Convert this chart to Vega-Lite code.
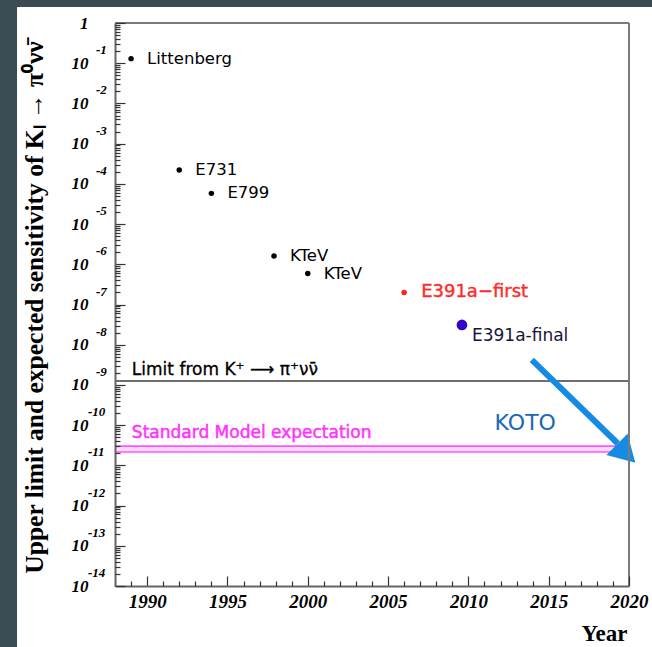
{
  "$schema": "https://vega.github.io/schema/vega-lite/v6.json",
  "width": 514,
  "height": 563,
  "autosize": "none",
  "padding": {"left": 115, "top": 23, "right": 23, "bottom": 61},
  "background": "#3b4b53",
  "config": {"view": {"stroke": null}},
  "datasets": {
    "points": [
      {"experiment": "Littenberg", "year": 1989.0, "limit": 0.13, "kind": "limit"},
      {"experiment": "E731", "year": 1992.0, "limit": 2.2e-4, "kind": "limit"},
      {"experiment": "E799", "year": 1994.0, "limit": 5.8e-5, "kind": "limit"},
      {"experiment": "KTeV", "year": 1997.9, "limit": 1.6e-6, "kind": "limit"},
      {"experiment": "KTeV", "year": 2000.0, "limit": 5.9e-7, "kind": "limit"},
      {"experiment": "E391a\u2212first", "year": 2006.0, "limit": 2.0e-7, "kind": "first"},
      {"experiment": "E391a-final", "year": 2009.6, "limit": 3.1e-8, "kind": "final"}
    ],
    "decades": [
      {"v": 1e-1, "e": "-1"}, {"v": 1e-2, "e": "-2"}, {"v": 1e-3, "e": "-3"},
      {"v": 1e-4, "e": "-4"}, {"v": 1e-5, "e": "-5"}, {"v": 1e-6, "e": "-6"},
      {"v": 1e-7, "e": "-7"}, {"v": 1e-8, "e": "-8"}, {"v": 1e-9, "e": "-9"},
      {"v": 1e-10, "e": "-10"}, {"v": 1e-11, "e": "-11"}, {"v": 1e-12, "e": "-12"},
      {"v": 1e-13, "e": "-13"}, {"v": 1e-14, "e": "-14"}
    ],
    "sm": [{"lo": 2.15e-11, "hi": 3.0e-11}],
    "kplus": [{"limit": 1.25e-9}],
    "one": [{}]
  },
  "layer": [
    {
      "data": {"name": "one"},
      "mark": {"type": "rect", "fill": "white", "clip": false},
      "encoding": {
        "x": {"datum": 1981.9, "type": "quantitative", "axis": null},
        "x2": {"datum": 2040},
        "y": {"datum": 2.5, "type": "quantitative", "axis": null},
        "y2": {"datum": 1e-17}
      }
    },
    {
      "data": {"name": "sm"},
      "mark": {"type": "rect", "fill": "#ffdcff"},
      "encoding": {
        "x": {"datum": 1988, "type": "quantitative", "axis": null},
        "x2": {"datum": 2020},
        "y": {"field": "lo", "type": "quantitative", "axis": null},
        "y2": {"field": "hi"}
      }
    },
    {
      "data": {"name": "sm"},
      "mark": {"type": "rule", "stroke": "#ff55ff", "strokeWidth": 1.6},
      "encoding": {
        "x": {"datum": 1988, "type": "quantitative", "axis": null},
        "x2": {"datum": 2020},
        "y": {"field": "lo", "type": "quantitative", "axis": null}
      }
    },
    {
      "data": {"name": "sm"},
      "mark": {"type": "rule", "stroke": "#ff55ff", "strokeWidth": 1.6},
      "encoding": {
        "x": {"datum": 1988, "type": "quantitative", "axis": null},
        "x2": {"datum": 2020},
        "y": {"field": "hi", "type": "quantitative", "axis": null}
      }
    },
    {
      "data": {"name": "kplus"},
      "mark": {"type": "rule", "stroke": "#6e6e6e", "strokeWidth": 2},
      "encoding": {
        "x": {"datum": 1988, "type": "quantitative", "axis": null},
        "x2": {"datum": 2020},
        "y": {"field": "limit", "type": "quantitative", "axis": null}
      }
    },
    {
      "data": {"name": "points"},
      "mark": {"type": "point", "filled": true, "opacity": 1},
      "encoding": {
        "x": {
          "field": "year", "type": "quantitative",
          "scale": {"domain": [1988, 2020], "nice": false, "zero": false},
          "axis": {
            "orient": "bottom", "zindex": 1,
            "values": [1990, 1995, 2000, 2005, 2010, 2015, 2020],
            "format": "d", "labelFlush": false, "labelOverlap": false,
            "tickSize": -10, "tickColor": "#333", "tickWidth": 1.2,
            "labelPadding": 16, "labelBaseline": "top",
            "labelFont": "Liberation Serif", "labelFontStyle": "italic", "labelFontWeight": "bold",
            "labelFontSize": 19, "labelColor": "black",
            "domainColor": "#666", "domainWidth": 2, "grid": false,
            "title": "Year", "titleFont": "Liberation Serif", "titleFontWeight": "bold",
            "titleFontSize": 23, "titleColor": "black",
            "titleAlign": "right", "titleX": 512, "titleY": 54, "titleBaseline": "alphabetic"
          }
        },
        "y": {
          "field": "limit", "type": "quantitative",
          "scale": {"type": "log", "domain": [1e-14, 1], "nice": false},
          "axis": {
            "orient": "left", "zindex": 1,
            "values": [1, 1e-1, 1e-2, 1e-3, 1e-4, 1e-5, 1e-6, 1e-7, 1e-8, 1e-9, 1e-10, 1e-11, 1e-12, 1e-13, 1e-14],
            "labelExpr": "datum.value >= 0.5 ? '1' : (datum.value < 5e-10 ? '10\u00a0' : '10')",
            "labelOverlap": false, "labelFlush": false,
            "tickSize": -10, "tickColor": "#333", "tickWidth": 1.2,
            "labelPadding": 37, "labelBaseline": "middle", "labelAlign": "right",
            "labelFont": "Liberation Serif", "labelFontStyle": "italic", "labelFontWeight": "bold",
            "labelFontSize": 17, "labelColor": "black",
            "domainColor": "#666", "domainWidth": 2, "grid": false,
            "title": "Upper limit and expected sensitivity of K\u2097 \u2192 \u03c0\u2070\u03bd\u03bd\u0304",
            "titleFont": "Liberation Serif", "titleFontWeight": "bold", "titleFontSize": 25.5,
            "titleColor": "black", "titleAngle": -90, "titleAlign": "center",
            "titleBaseline": "alphabetic", "titleX": -73, "titleY": 284
          }
        },
        "color": {
          "field": "kind", "type": "nominal", "legend": null,
          "scale": {"domain": ["limit", "first", "final"], "range": ["black", "#ff2020", "#3300cc"]}
        },
        "size": {"condition": {"test": "datum.kind == 'final'", "value": 115}, "value": 30}
      }
    },
    {
      "data": {"name": "points"},
      "transform": [{"filter": "datum.kind == 'limit'"}],
      "mark": {"type": "text", "align": "left", "baseline": "middle", "dx": 16, "font": "DejaVu Sans", "fontSize": 16.5, "color": "black"},
      "encoding": {
        "x": {"field": "year", "type": "quantitative", "axis": null},
        "y": {"field": "limit", "type": "quantitative", "axis": null},
        "text": {"field": "experiment"}
      }
    },
    {
      "data": {"name": "points"},
      "transform": [{"filter": "datum.kind == 'first'"}],
      "mark": {"type": "text", "align": "left", "baseline": "middle", "dx": 17, "font": "DejaVu Sans", "fontSize": 18, "color": "#ff2a2a", "stroke": "#ff2a2a", "strokeWidth": 0.4},
      "encoding": {
        "x": {"field": "year", "type": "quantitative", "axis": null},
        "y": {"field": "limit", "type": "quantitative", "axis": null},
        "text": {"field": "experiment"}
      }
    },
    {
      "data": {"name": "points"},
      "transform": [{"filter": "datum.kind == 'final'"}],
      "mark": {"type": "text", "align": "left", "baseline": "middle", "dx": 10, "dy": 11, "font": "DejaVu Sans", "fontSize": 17, "color": "#15153a"},
      "encoding": {
        "x": {"field": "year", "type": "quantitative", "axis": null},
        "y": {"field": "limit", "type": "quantitative", "axis": null},
        "text": {"field": "experiment"}
      }
    },
    {
      "data": {"name": "decades"},
      "transform": [{"filter": "datum.v > 5e-10"}],
      "mark": {"type": "text", "align": "left", "baseline": "middle", "dx": -19, "dy": -13, "font": "Liberation Serif", "fontStyle": "italic", "fontWeight": "bold", "fontSize": 13, "color": "black", "clip": false},
      "encoding": {
        "x": {
          "datum": 1988, "type": "quantitative",
          "axis": {
            "orient": "bottom", "zindex": 1, "labels": false, "domain": false, "grid": false, "title": null,
            "values": [1988, 1989, 1991, 1992, 1993, 1994, 1996, 1997, 1998, 1999, 2001, 2002, 2003, 2004, 2006, 2007, 2008, 2009, 2011, 2012, 2013, 2014, 2016, 2017, 2018, 2019],
            "tickSize": -5, "tickColor": "#333", "tickWidth": 1.2
          }
        },
        "y": {
          "field": "v", "type": "quantitative",
          "axis": {
            "orient": "left", "zindex": 1, "labels": false, "domain": false, "grid": false, "title": null,
            "values": [2e-1, 3e-1, 4e-1, 5e-1, 6e-1, 7e-1, 8e-1, 9e-1,
                       2e-2, 3e-2, 4e-2, 5e-2, 6e-2, 7e-2, 8e-2, 9e-2,
                       2e-3, 3e-3, 4e-3, 5e-3, 6e-3, 7e-3, 8e-3, 9e-3,
                       2e-4, 3e-4, 4e-4, 5e-4, 6e-4, 7e-4, 8e-4, 9e-4,
                       2e-5, 3e-5, 4e-5, 5e-5, 6e-5, 7e-5, 8e-5, 9e-5,
                       2e-6, 3e-6, 4e-6, 5e-6, 6e-6, 7e-6, 8e-6, 9e-6,
                       2e-7, 3e-7, 4e-7, 5e-7, 6e-7, 7e-7, 8e-7, 9e-7,
                       2e-8, 3e-8, 4e-8, 5e-8, 6e-8, 7e-8, 8e-8, 9e-8,
                       2e-9, 3e-9, 4e-9, 5e-9, 6e-9, 7e-9, 8e-9, 9e-9,
                       2e-10, 3e-10, 4e-10, 5e-10, 6e-10, 7e-10, 8e-10, 9e-10,
                       2e-11, 3e-11, 4e-11, 5e-11, 6e-11, 7e-11, 8e-11, 9e-11,
                       2e-12, 3e-12, 4e-12, 5e-12, 6e-12, 7e-12, 8e-12, 9e-12,
                       2e-13, 3e-13, 4e-13, 5e-13, 6e-13, 7e-13, 8e-13, 9e-13,
                       2e-14, 3e-14, 4e-14, 5e-14, 6e-14, 7e-14, 8e-14, 9e-14],
            "tickSize": -5, "tickColor": "#333", "tickWidth": 1.2
          }
        },
        "text": {"field": "e"}
      }
    },
    {
      "data": {"name": "decades"},
      "transform": [{"filter": "datum.v < 5e-10"}],
      "mark": {"type": "text", "align": "left", "baseline": "middle", "dx": -27, "dy": -13, "font": "Liberation Serif", "fontStyle": "italic", "fontWeight": "bold", "fontSize": 13, "color": "black", "clip": false},
      "encoding": {
        "x": {"datum": 1988, "type": "quantitative", "axis": null},
        "y": {"field": "v", "type": "quantitative", "axis": null},
        "text": {"field": "e"}
      }
    },
    {
      "data": {"name": "one"},
      "mark": {"type": "text", "text": "Limit from K\u207a \u27f6 \u03c0\u207a\u03bd\u03bd\u0304", "align": "left", "baseline": "middle", "dy": -11, "font": "DejaVu Sans", "fontSize": 17, "color": "black", "stroke": "black", "strokeWidth": 0.3},
      "encoding": {
        "x": {"datum": 1989.05, "type": "quantitative", "axis": null},
        "y": {"datum": 1.25e-9, "type": "quantitative", "axis": null}
      }
    },
    {
      "data": {"name": "one"},
      "mark": {"type": "text", "text": "Standard Model expectation", "align": "left", "baseline": "middle", "font": "DejaVu Sans", "fontSize": 17, "color": "#ff33ff", "stroke": "#ff33ff", "strokeWidth": 0.5},
      "encoding": {
        "x": {"datum": 1989.05, "type": "quantitative", "axis": null},
        "y": {"datum": 6.5e-11, "type": "quantitative", "axis": null}
      }
    },
    {
      "data": {"name": "one"},
      "mark": {"type": "text", "text": "KOTO", "align": "center", "baseline": "middle", "font": "DejaVu Sans", "fontSize": 22, "color": "#1a68b8"},
      "encoding": {
        "x": {"datum": 2013.54, "type": "quantitative", "axis": null},
        "y": {"datum": 1.13e-10, "type": "quantitative", "axis": null}
      }
    },
    {
      "data": {"name": "one"},
      "mark": {"type": "rule", "stroke": "#168be3", "strokeWidth": 6, "clip": false},
      "encoding": {
        "x": {"datum": 2013.95, "type": "quantitative", "axis": null},
        "y": {"datum": 4.2e-9, "type": "quantitative", "axis": null},
        "x2": {"datum": 2019.3},
        "y2": {"datum": 3.5e-11}
      }
    },
    {
      "data": {"name": "one"},
      "mark": {"type": "point", "shape": "triangle-right", "angle": 45, "size": 900, "filled": true, "color": "#168be3", "opacity": 1, "clip": false},
      "encoding": {
        "x": {"datum": 2019.82, "type": "quantitative", "axis": null},
        "y": {"datum": 1.97e-11, "type": "quantitative", "axis": null}
      }
    },
    {
      "data": {"name": "one"},
      "mark": {"type": "rule", "stroke": "#7a7a7a", "strokeWidth": 2},
      "encoding": {
        "x": {"datum": 1988, "type": "quantitative", "axis": null},
        "x2": {"datum": 2020},
        "y": {"datum": 1, "type": "quantitative", "axis": null}
      }
    },
    {
      "data": {"name": "one"},
      "mark": {"type": "rule", "stroke": "#7a7a7a", "strokeWidth": 2},
      "encoding": {
        "x": {"datum": 2020, "type": "quantitative", "axis": null},
        "y": {"datum": 1e-14, "type": "quantitative", "axis": null},
        "y2": {"datum": 1}
      }
    }
  ],
  "resolve": {"scale": {"x": "shared", "y": "shared", "color": "independent"}, "axis": {"x": "independent", "y": "independent"}}
}
